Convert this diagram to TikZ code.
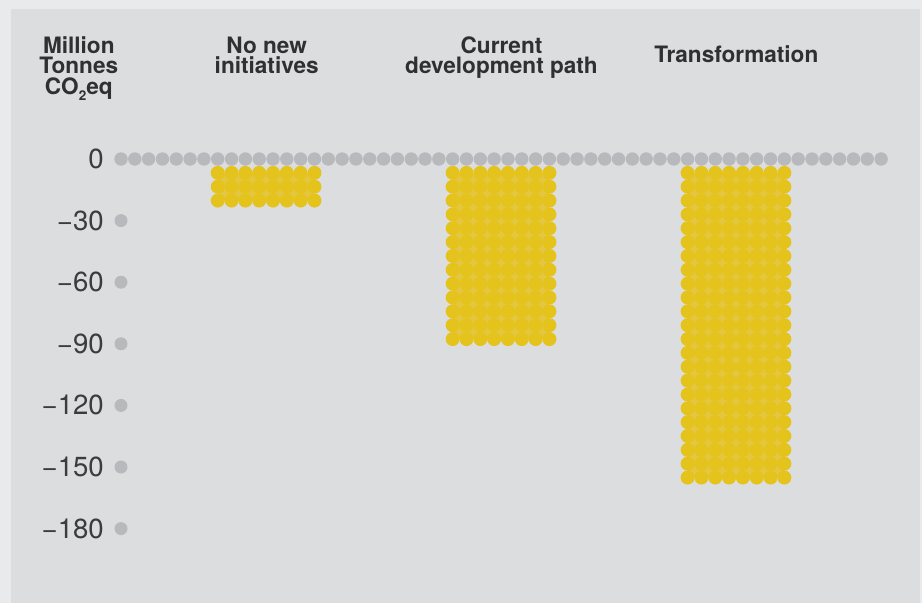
\documentclass[tikz,border=0pt]{standalone}
\usepackage{fontspec}
\setmainfont{TeX Gyre Heros}
\definecolor{outerbg}{HTML}{E9EAEC}
\definecolor{panelbg}{HTML}{DCDDDF}
\definecolor{dotgray}{HTML}{B8B9BC}
\definecolor{yellowdot}{HTML}{E5C31D}
\definecolor{yellowlite}{HTML}{E4C640}
\definecolor{headtext}{HTML}{303030}
\definecolor{axtext}{HTML}{3C3C3C}
\newcommand\mybar[2]{%
  \fill[yellowlite] ({121+#1*13.82},173.8) rectangle ({121+(#1+7)*13.82},{159+#2*13.85});
  \foreach \c in {0,...,7}{\foreach \r in {1,...,#2}{%
    \fill[yellowdot] ({121+(#1+\c)*13.82},{159+\r*13.85}) circle (7);}}}
\begin{document}
\begin{tikzpicture}[x=1pt,y=-1pt,
  head/.style={inner sep=0pt, anchor=base, text=headtext, font=\bfseries\fontsize{22.6}{22.6}\selectfont},
  axl/.style={inner sep=0pt, anchor=east, text=axtext, font=\fontsize{27.6}{27.6}\selectfont}]
\useasboundingbox (0,0) rectangle (922,603);
\fill[outerbg] (0,0) rectangle (922,603);
\fill[panelbg] (11,9) rectangle (920,603);
% zero row
\foreach \i in {0,...,55} \fill[dotgray] ({121+\i*13.82},159) circle (6.7);
% ticks
\foreach \k in {1,...,6} \fill[dotgray] (121,{159+\k*61.6}) circle (6.5);
% bars
\mybar{7}{3}
\mybar{24}{13}
\mybar{41}{23}
% axis labels
\node[axl] (l0) at (104,159) {0};
\node[axl] (l30) at (104,220.6) {−30};
\node[axl] (l60) at (104,282.2) {−60};
\node[axl] (l90) at (104,343.8) {−90};
\node[axl] (l120) at (104,405.4) {−120};
\node[axl] (l150) at (104,467) {−150};
\node[axl] (l180) at (104,528.6) {−180};
% headings
\node[head] (h1a) at (78.8,53) {Million};
\node[head] (h1b) at (78.8,73.5) {Tonnes};
\node[head] (h1c) at (78.8,94.5) {CO\raisebox{-5.5pt}{\fontsize{13.5}{13.5}\selectfont 2}eq};
\node[head] (h2a) at (266.7,53) {No new};
\node[head] (h2b) at (266.7,73.5) {initiatives};
\node[head] (h3a) at (501.5,53) {Current};
\node[head] (h3b) at (501.5,73.5) {development path};
\node[head] (h4) at (736.3,62.7) {Transformation};
\end{tikzpicture}
\end{document}
